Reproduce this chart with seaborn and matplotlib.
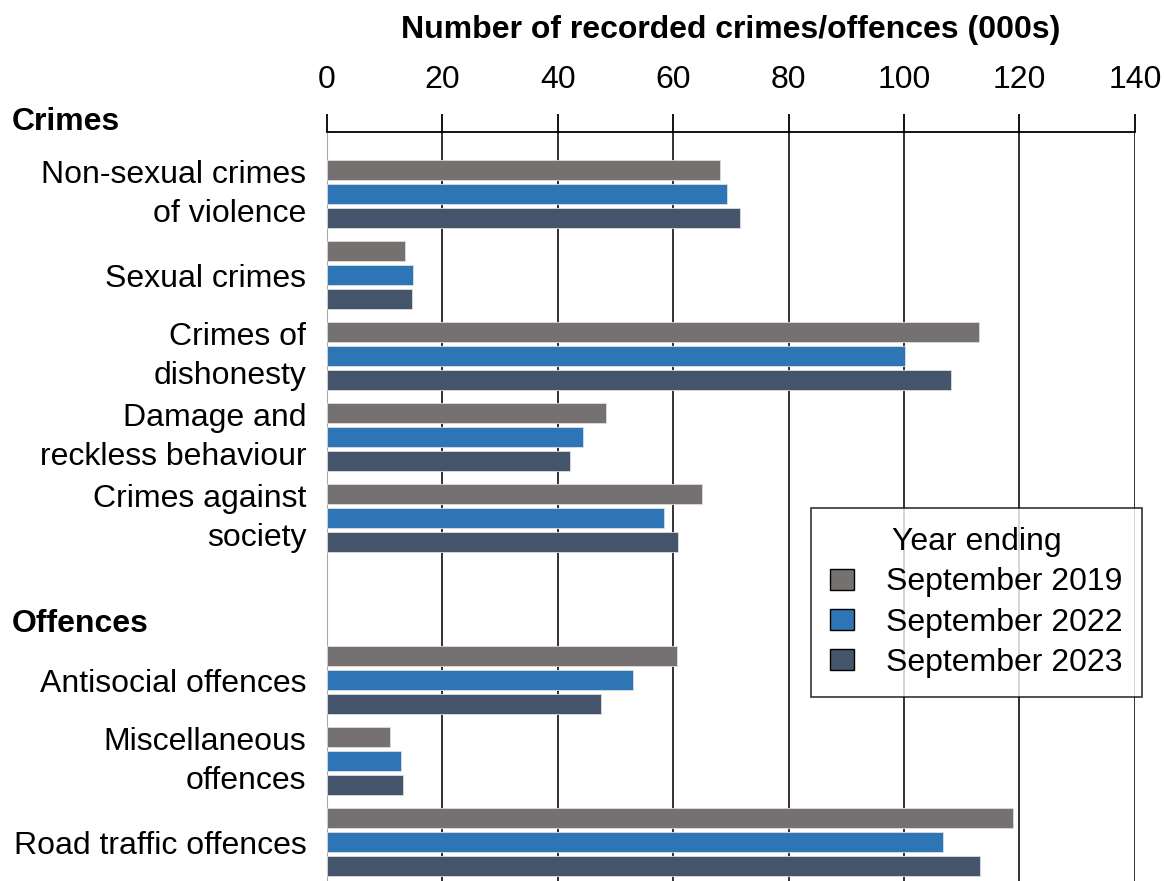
import pandas as pd
import matplotlib.pyplot as plt
import seaborn as sns

categories = ["Non-sexual crimes\nof violence", "Sexual crimes", "Crimes of\ndishonesty",
              "Damage and\nreckless behaviour", "Crimes against\nsociety",
              "Antisocial offences", "Miscellaneous\noffences", "Road traffic offences"]
years = ["September 2019", "September 2022", "September 2023"]
sep_2019 = [68.1, 13.5, 113.0, 48.3, 65.0, 60.6, 10.9, 118.9]
sep_2022 = [69.3, 14.9, 100.2, 44.4, 58.4, 53.0, 12.8, 106.7]
sep_2023 = [71.6, 14.7, 108.1, 42.1, 60.8, 47.5, 13.2, 113.2]
colors = ["#767171", "#2E75B6", "#44546A"]

df = pd.DataFrame({
    "category": categories * 3,
    "year": [y for y in years for _ in categories],
    "value": sep_2019 + sep_2022 + sep_2023,
})
# blank slot separates crimes from offences
order = categories[:5] + [" "] + categories[5:]

FS = 23
sns.set_style("white")
plt.rcParams["font.family"] = ["Liberation Sans", "DejaVu Sans"]
plt.rcParams["text.color"] = "black"
plt.rcParams["xtick.color"] = "black"
plt.rcParams["ytick.color"] = "black"
plt.rcParams["axes.labelcolor"] = "black"

fig = plt.figure(figsize=(11.64, 8.81), dpi=100)
ax = fig.add_axes([0.281, 0.0, 0.694, 0.850])
sns.barplot(data=df, y="category", x="value", hue="year", order=order,
            hue_order=years, palette=colors, saturation=1, orient="h",
            width=0.89, gap=0.16, edgecolor="#dddddd", linewidth=0.6, ax=ax, zorder=3)

ax.set_xlim(0, 140)
ax.set_ylim(8.48, -0.765)
ax.set_xticks(range(0, 141, 20))
ax.xaxis.tick_top()
ax.xaxis.set_label_position("top")
ax.set_xlabel("Number of recorded crimes/offences (000s)", fontsize=FS,
              fontweight="bold", labelpad=19)
ax.set_ylabel("")
ax.tick_params(axis="x", direction="out", length=13, width=1.3,
               labelsize=FS, pad=14, top=True, bottom=False)
ax.tick_params(axis="y", length=0, labelsize=FS, pad=15)
for t in ax.get_yticklabels():
    t.set_linespacing(1.4)
    if "\n" in t.get_text():
        t.set_verticalalignment("center")
ax.grid(axis="x", color="#222222", linewidth=1.3, zorder=0)
ax.set_axisbelow(True)
for s in ["right", "bottom"]:
    ax.spines[s].set_visible(False)
ax.spines["top"].set_color("black")
ax.spines["top"].set_linewidth(1.3)
ax.spines["left"].set_color("#aaaaaa")

handles, labels = ax.get_legend_handles_labels()
for h in handles:
    h.set_edgecolor("black")
    h.set_linewidth(1.0)
leg = ax.legend(handles, labels, title="Year ending", loc="upper left",
                bbox_to_anchor=(0.599, 0.498), fontsize=FS, title_fontsize=FS,
                frameon=True, fancybox=False, edgecolor="black", handlelength=0.75,
                handleheight=0.65, handletextpad=1.0, borderpad=0.6, labelspacing=0.32,
                borderaxespad=0)
leg.get_frame().set_linewidth(1.2)

fig.text(0.0103, 0.8615, "Crimes", fontsize=FS, fontweight="bold", va="center")
fig.text(0.0103, 0.2918, "Offences", fontsize=FS, fontweight="bold", va="center")

fig.savefig("out.png", dpi=100)
